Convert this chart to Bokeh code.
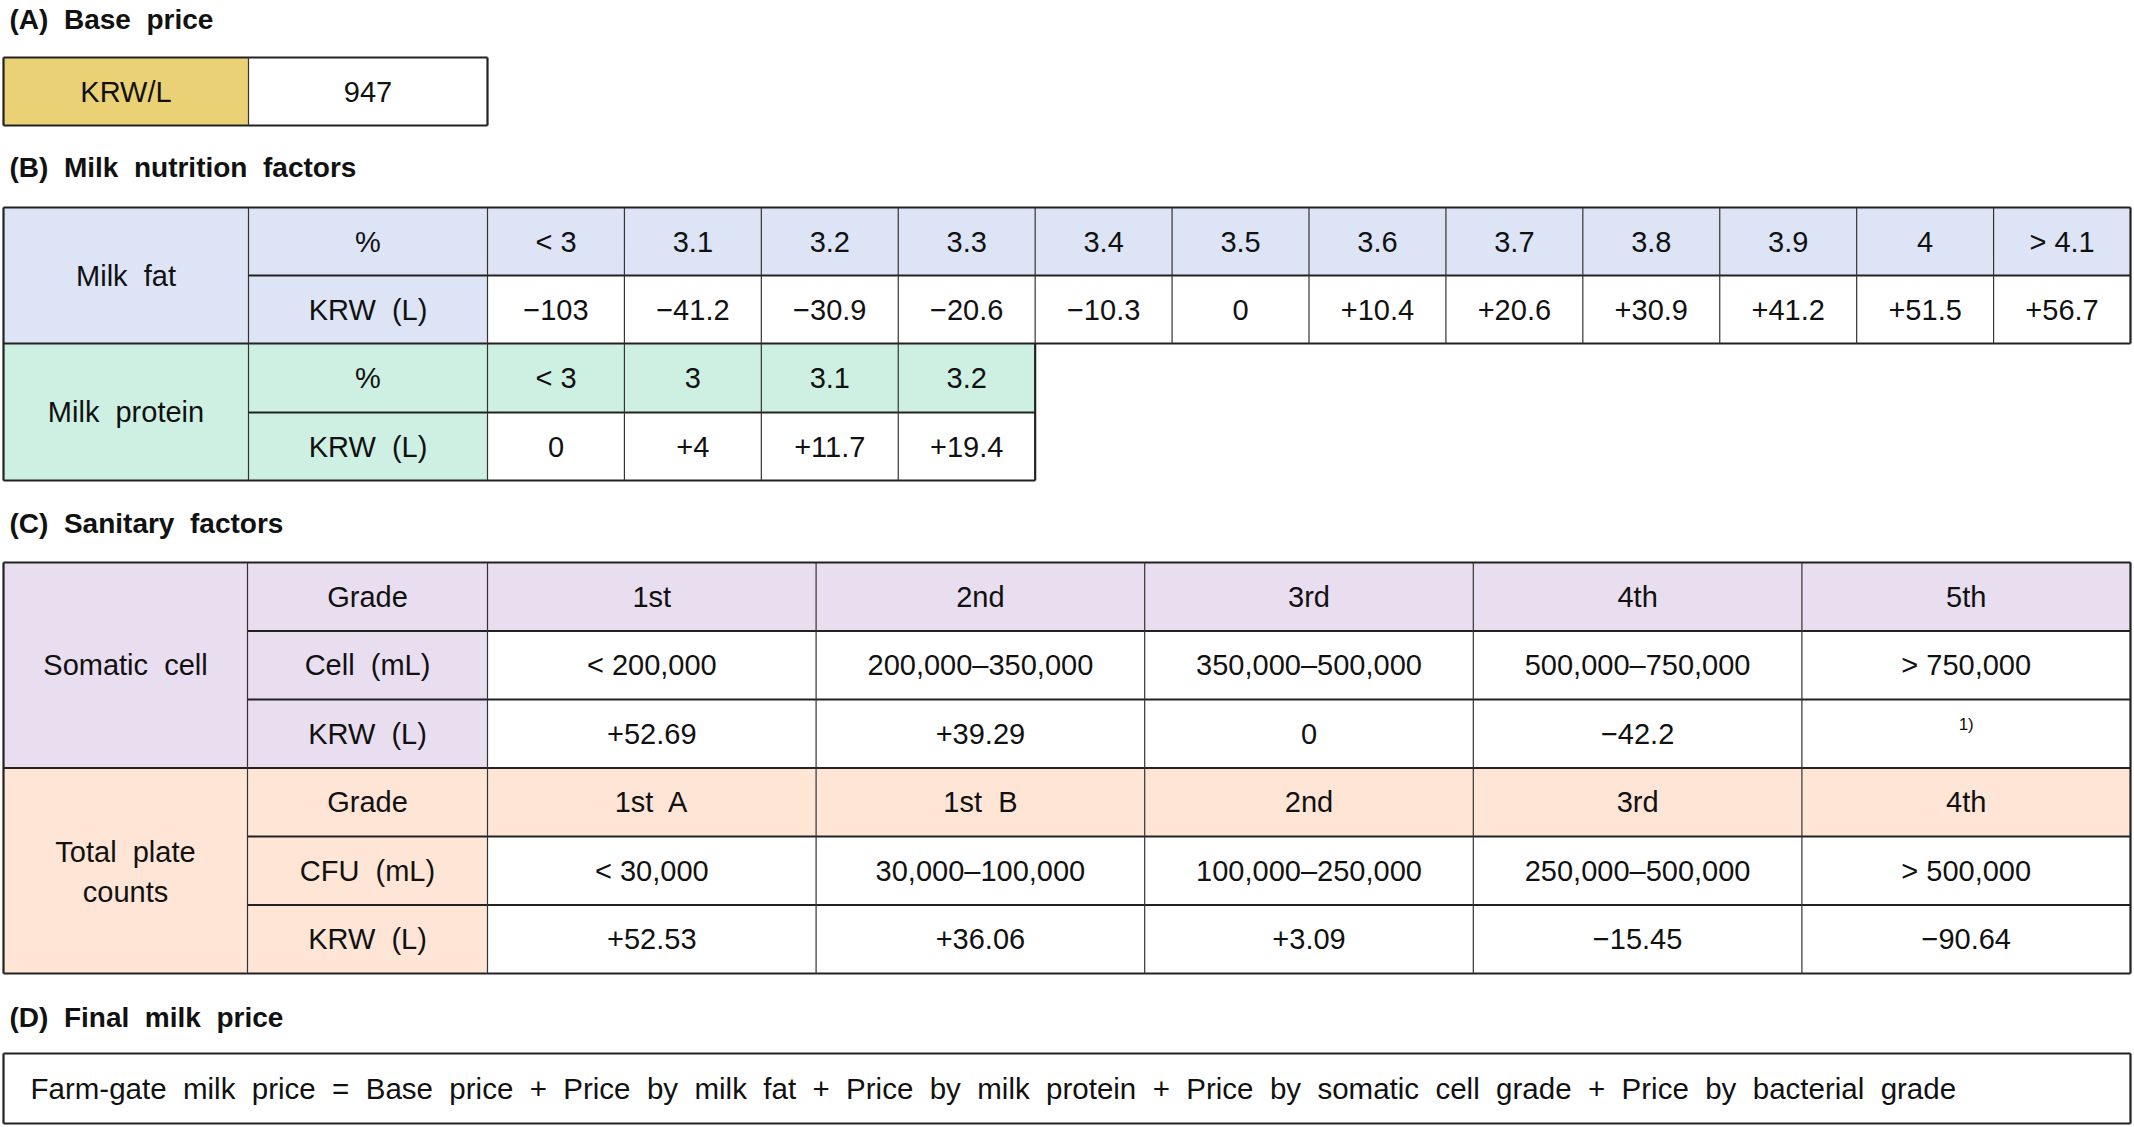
from bokeh.plotting import figure
from bokeh.models import Range1d
from bokeh.embed import file_html
from bokeh.resources import INLINE
from bokeh.core.properties import value

# ---------------- data ----------------
titles = ["(A) Base price", "(B) Milk nutrition factors", "(C) Sanitary factors", "(D) Final milk price"]
base_label = "KRW/L"
base_price = "947"

fat_label = "Milk fat"
fat_pct = ["< 3", "3.1", "3.2", "3.3", "3.4", "3.5", "3.6", "3.7", "3.8", "3.9", "4", "> 4.1"]
fat_krw = ["−103", "−41.2", "−30.9", "−20.6", "−10.3", "0", "+10.4", "+20.6", "+30.9", "+41.2", "+51.5", "+56.7"]

prot_label = "Milk protein"
prot_pct = ["< 3", "3", "3.1", "3.2"]
prot_krw = ["0", "+4", "+11.7", "+19.4"]

row_pct = "%"
row_krw = "KRW (L)"

scc_label = "Somatic cell"
scc_rows = ["Grade", "Cell (mL)", "KRW (L)"]
scc_grade = ["1st", "2nd", "3rd", "4th", "5th"]
scc_cell = ["< 200,000", "200,000–350,000", "350,000–500,000", "500,000–750,000", "> 750,000"]
scc_krw = ["+52.69", "+39.29", "0", "−42.2", ""]
scc_note = "1)"

tpc_label = ["Total plate", "counts"]
tpc_rows = ["Grade", "CFU (mL)", "KRW (L)"]
tpc_grade = ["1st A", "1st B", "2nd", "3rd", "4th"]
tpc_cfu = ["< 30,000", "30,000–100,000", "100,000–250,000", "250,000–500,000", "> 500,000"]
tpc_krw = ["+52.53", "+36.06", "+3.09", "−15.45", "−90.64"]

formula = "Farm-gate milk price = Base price + Price by milk fat + Price by milk protein + Price by somatic cell grade + Price by bacterial grade"

# ---------------- style / layout ----------------
FONT = "Liberation Sans"
GOLD = "#EBD176"
BLUE = "#DDE4F6"
GREEN = "#CEF0E3"
PURPLE = "#E9DDF0"
PEACH = "#FEE5D6"
LINE = "#222222"
TXT = "#111111"

def sp(s):
    # wide word spacing as in the reference typesetting
    return s.replace(" ", "\u00a0 ")

W, H = 2132, 1125
p = figure(width=W, height=H, x_range=Range1d(0, W), y_range=Range1d(H, 0),
           output_backend="svg", toolbar_location=None, min_border=0,
           x_axis_type=None, y_axis_type=None)
p.grid.visible = False
p.outline_line_color = None

# geometry
xa = [3, 248, 487]
ya = [57, 125]
xb = [3, 248] + [487 + i * (2130 - 487) / 12 for i in range(13)]
yb = [207, 275, 343, 412, 480]
xc = [3, 247] + [487 + i * (2130 - 487) / 5 for i in range(6)]
yc = [562 + i * 68.5 for i in range(7)]
xd = [3, 2130]
yd = [1053, 1123]

# ---------------- fills ----------------
L, R, T, B, C = [], [], [], [], []
def cell(l, r, t, b, c):
    L.append(l); R.append(r); T.append(t); B.append(b); C.append(c)

cell(xa[0], xa[1], ya[0], ya[1], GOLD)
cell(xb[0], xb[1], yb[0], yb[2], BLUE)
cell(xb[1], xb[2], yb[0], yb[2], BLUE)
for i in range(len(fat_pct)):
    cell(xb[2 + i], xb[3 + i], yb[0], yb[1], BLUE)
cell(xb[0], xb[1], yb[2], yb[4], GREEN)
cell(xb[1], xb[2], yb[2], yb[4], GREEN)
for i in range(len(prot_pct)):
    cell(xb[2 + i], xb[3 + i], yb[2], yb[3], GREEN)
cell(xc[0], xc[1], yc[0], yc[3], PURPLE)
cell(xc[1], xc[2], yc[0], yc[3], PURPLE)
for i in range(len(scc_grade)):
    cell(xc[2 + i], xc[3 + i], yc[0], yc[1], PURPLE)
cell(xc[0], xc[1], yc[3], yc[6], PEACH)
cell(xc[1], xc[2], yc[3], yc[6], PEACH)
for i in range(len(tpc_grade)):
    cell(xc[2 + i], xc[3 + i], yc[3], yc[4], PEACH)

p.quad(left=L, right=R, top=T, bottom=B, fill_color=C, line_color=None)

# ---------------- lines ----------------
thick = dict(x0=[], y0=[], x1=[], y1=[])
thin = dict(x0=[], y0=[], x1=[], y1=[])
def hseg(d, y, x0, x1):
    d["x0"].append(x0); d["x1"].append(x1); d["y0"].append(y); d["y1"].append(y)
def vseg(d, x, y0, y1):
    d["x0"].append(x); d["x1"].append(x); d["y0"].append(y0); d["y1"].append(y1)

hseg(thick, ya[0], xa[0], xa[2]); hseg(thick, ya[1], xa[0], xa[2])
vseg(thick, xa[0], ya[0], ya[1]); vseg(thick, xa[2], ya[0], ya[1])
vseg(thin, xa[1], ya[0], ya[1])
nf = len(fat_pct) + 2
npr = len(prot_pct) + 2
hseg(thick, yb[0], xb[0], xb[nf]); hseg(thick, yb[1], xb[1], xb[nf]); hseg(thick, yb[2], xb[0], xb[nf])
hseg(thick, yb[3], xb[1], xb[npr]); hseg(thick, yb[4], xb[0], xb[npr])
vseg(thick, xb[0], yb[0], yb[4]); vseg(thick, xb[nf], yb[0], yb[2]); vseg(thick, xb[npr], yb[2], yb[4])
for i in range(1, nf):
    vseg(thin, xb[i], yb[0], yb[2])
for i in range(1, npr):
    vseg(thin, xb[i], yb[2], yb[4])
nc = len(scc_grade) + 2
for j in range(7):
    hseg(thick, yc[j], xc[0] if j in (0, 3, 6) else xc[1], xc[nc])
vseg(thick, xc[0], yc[0], yc[6]); vseg(thick, xc[nc], yc[0], yc[6])
for i in range(1, nc):
    vseg(thin, xc[i], yc[0], yc[6])
hseg(thick, yd[0], xd[0], xd[1]); hseg(thick, yd[1], xd[0], xd[1])
vseg(thick, xd[0], yd[0], yd[1]); vseg(thick, xd[1], yd[0], yd[1])

p.segment(line_color=LINE, line_width=2.2, **thick)
p.segment(line_color="#333333", line_width=1.2, **thin)

# ---------------- texts ----------------
tx, ty, tt = [], [], []
def put(x, y, s):
    tx.append(x); ty.append(y); tt.append(s)
mid = lambda a, b: (a + b) / 2

put(mid(xa[0], xa[1]), mid(*ya), base_label)
put(mid(xa[1], xa[2]), mid(*ya), base_price)

put(mid(xb[0], xb[1]), mid(yb[0], yb[2]), sp(fat_label))
put(mid(xb[1], xb[2]), mid(yb[0], yb[1]), row_pct)
put(mid(xb[1], xb[2]), mid(yb[1], yb[2]), sp(row_krw))
for i, (a, b) in enumerate(zip(fat_pct, fat_krw)):
    put(mid(xb[2 + i], xb[3 + i]), mid(yb[0], yb[1]), a)
    put(mid(xb[2 + i], xb[3 + i]), mid(yb[1], yb[2]), b)
put(mid(xb[0], xb[1]), mid(yb[2], yb[4]), sp(prot_label))
put(mid(xb[1], xb[2]), mid(yb[2], yb[3]), row_pct)
put(mid(xb[1], xb[2]), mid(yb[3], yb[4]), sp(row_krw))
for i, (a, b) in enumerate(zip(prot_pct, prot_krw)):
    put(mid(xb[2 + i], xb[3 + i]), mid(yb[2], yb[3]), a)
    put(mid(xb[2 + i], xb[3 + i]), mid(yb[3], yb[4]), b)

put(mid(xc[0], xc[1]), mid(yc[0], yc[3]), sp(scc_label))
for j, s in enumerate(scc_rows):
    put(mid(xc[1], xc[2]), mid(yc[j], yc[j + 1]), sp(s))
for i in range(len(scc_grade)):
    for j, s in enumerate([scc_grade[i], scc_cell[i], scc_krw[i]]):
        if s:
            put(mid(xc[2 + i], xc[3 + i]), mid(yc[j], yc[j + 1]), s)
ymid = mid(yc[3], yc[6])
put(mid(xc[0], xc[1]), ymid - 19, sp(tpc_label[0]))
put(mid(xc[0], xc[1]), ymid + 21, tpc_label[1])
for j, s in enumerate(tpc_rows):
    put(mid(xc[1], xc[2]), mid(yc[3 + j], yc[4 + j]), sp(s))
for i in range(len(tpc_grade)):
    for j, s in enumerate([sp(tpc_grade[i]), tpc_cfu[i], tpc_krw[i]]):
        put(mid(xc[2 + i], xc[3 + i]), mid(yc[3 + j], yc[4 + j]), s)

p.text(x=tx, y=ty, text=tt, text_align="center", text_baseline="middle",
       text_font=value(FONT), text_font_size="29px", text_color=TXT)

p.text(x=[mid(xc[6], xc[7])], y=[yc[2] + 25], text=[scc_note], text_align="center",
       text_baseline="middle", text_font=value(FONT), text_font_size="17px", text_color=TXT)

p.text(x=[30], y=[mid(*yd)], text=[sp(formula)], text_align="left", text_baseline="middle",
       text_font=value(FONT), text_font_size="29.5px", text_color=TXT)

p.text(x=[9, 9, 9, 9], y=[19, 167, 523, 1017], text=[sp(t) for t in titles], text_align="left",
       text_baseline="middle", text_font=value(FONT), text_font_size="28px",
       text_font_style="bold", text_color=TXT)

open("out.html", "w").write(file_html(p, INLINE))
